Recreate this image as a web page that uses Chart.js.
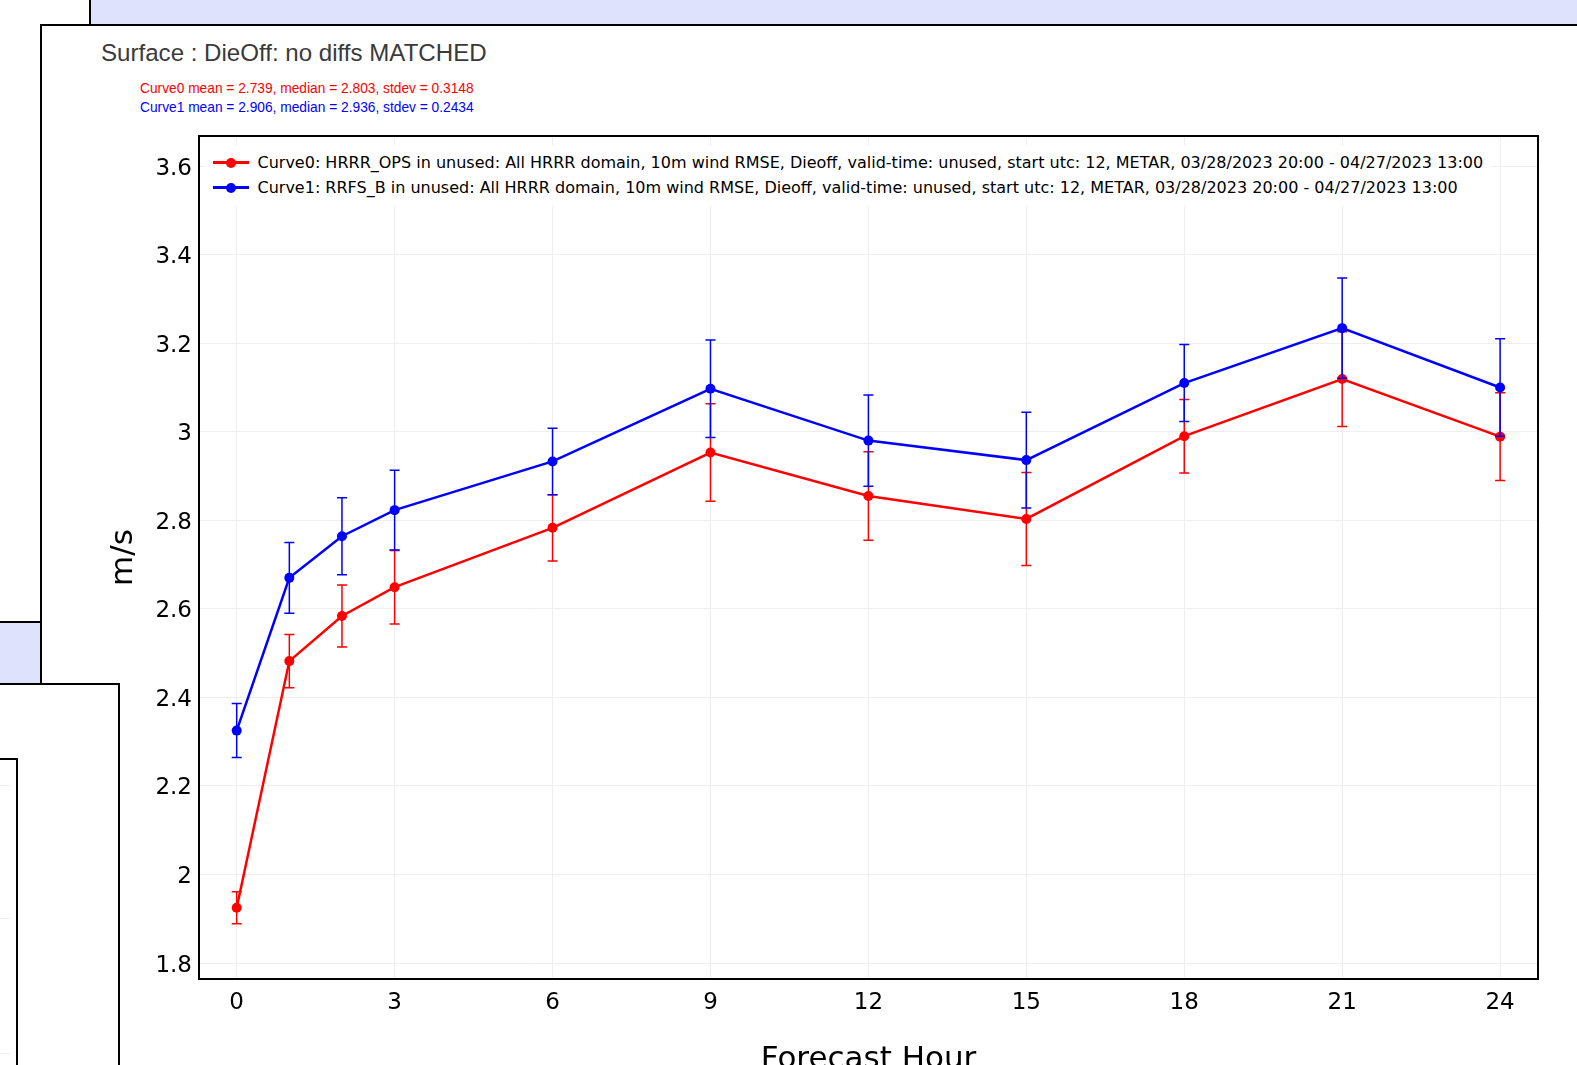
<!DOCTYPE html>
<html>
<head>
<meta charset="utf-8">
<script src="https://cdn.jsdelivr.net/npm/chart.js@4"></script>
<style>
  html, body { margin: 0; padding: 0; background: #fff; overflow: hidden; width: 1577px; height: 1065px; }
  .bg { position: absolute; box-sizing: border-box; }
  #title { position: absolute; left: 101px; top: 38px; font: 24.1px/30px "Liberation Sans", Arial, sans-serif; color: #3a3a3a; white-space: nowrap; }
  .stat { position: absolute; left: 140px; font: 13.75px/19px "Liberation Sans", Arial, sans-serif; white-space: nowrap; }
  #wrap { position: absolute; left: 0; top: 0; width: 1577px; height: 1100px; }
  #legend { position: absolute; left: 206px; top: 145px; padding: 5px 8px 6px 7px; background: #fff; font: 16px "DejaVu Sans", Verdana, sans-serif; color: #000; }
  .row { height: 25px; line-height: 25px; white-space: nowrap; display: flex; align-items: center; }
  .mk { position: relative; width: 36px; height: 25px; margin-right: 8.5px; flex: none; }
  .mk i { position: absolute; left: 0; right: 0; top: 11px; height: 3px; }
  .mk b { position: absolute; left: 13px; top: 7.5px; width: 10px; height: 10px; border-radius: 50%; }
</style>
</head>
<body>
<!-- page furniture around the plot -->
<div class="bg" style="left:89px;top:-2px;width:1600px;height:28px;background:#dde3fb;border-left:2px solid #000;border-bottom:2px solid #000;"></div>
<div class="bg" style="left:40px;top:24px;width:1600px;height:598px;background:#fff;border-left:2px solid #000;border-top:2px solid #000;"></div>
<div class="bg" style="left:-2px;top:621px;width:44px;height:63px;background:#dde3fb;border-top:2px solid #000;border-right:2px solid #000;"></div>
<div class="bg" style="left:-2px;top:683px;width:122px;height:500px;background:#fff;border-top:2px solid #000;border-right:2px solid #000;"></div>
<div class="bg" style="left:-2px;top:758px;width:20px;height:400px;background:#fff;border-top:2px solid #000;border-right:2px solid #000;"></div>
<div class="bg" style="left:0;top:785px;width:10px;height:1px;background:#eee;"></div>
<div class="bg" style="left:0;top:918px;width:10px;height:1px;background:#eee;"></div>
<div class="bg" style="left:0;top:1053px;width:10px;height:1px;background:#eee;"></div>

<div id="title">Surface : DieOff: no diffs MATCHED</div>
<div class="stat" id="stat0" style="top:79px;color:#ff0000;"></div>
<div class="stat" id="stat1" style="top:98px;color:#0000ff;"></div>

<div id="wrap"><canvas id="chart"></canvas></div>
<div id="legend"></div>

<script>
// === DATA ===
const hours = [0, 1, 2, 3, 6, 9, 12, 15, 18, 21, 24];
const xTicks = [0, 3, 6, 9, 12, 15, 18, 21, 24];
const yTicks = [1.8, 2, 2.2, 2.4, 2.6, 2.8, 3, 3.2, 3.4, 3.6];

const hrrrOps = [1.925, 2.482, 2.584, 2.649, 2.783, 2.953, 2.855, 2.803, 2.990, 3.119, 2.989];
const hrrrOpsErr = [0.036, 0.060, 0.070, 0.083, 0.075, 0.110, 0.100, 0.105, 0.083, 0.107, 0.099];
const rrfsB = [2.325, 2.670, 2.764, 2.823, 2.933, 3.097, 2.980, 2.936, 3.110, 3.234, 3.100];
const rrfsBErr = [0.061, 0.080, 0.087, 0.090, 0.075, 0.110, 0.103, 0.108, 0.087, 0.113, 0.110];

const curveLabels = [
  "Curve0: HRRR_OPS in unused: All HRRR domain, 10m wind RMSE, Dieoff, valid-time: unused, start utc: 12, METAR, 03/28/2023 20:00 - 04/27/2023 13:00",
  "Curve1: RRFS_B in unused: All HRRR domain, 10m wind RMSE, Dieoff, valid-time: unused, start utc: 12, METAR, 03/28/2023 20:00 - 04/27/2023 13:00"
];
const statLines = [
  "Curve0 mean = 2.739, median = 2.803, stdev = 0.3148",
  "Curve1 mean = 2.906, median = 2.936, stdev = 0.2434"
];
const colors = ["#ff0000", "#0000ff"];

document.getElementById("stat0").textContent = statLines[0];
document.getElementById("stat1").textContent = statLines[1];

// === LEGEND (html, sits over the plot like the original) ===
document.getElementById("legend").innerHTML = curveLabels.map((label, i) => `
  <div class="row"><span class="mk"><i style="background:${colors[i]}"></i><b style="background:${colors[i]}"></b></span>${label}</div>
`).join("");

// === PLUGINS ===
const errorBars = {
  id: "errorBars",
  beforeDatasetDraw(chart, args) {
    const ds = chart.data.datasets[args.index];
    const { x, y } = chart.scales;
    const ctx = chart.ctx;
    ctx.save();
    ctx.strokeStyle = ds.borderColor;
    ctx.lineWidth = 1.5;
    ds.data.forEach((p, i) => {
      const px = x.getPixelForValue(p.x);
      const hi = y.getPixelForValue(p.y + ds.errs[i]);
      const lo = y.getPixelForValue(p.y - ds.errs[i]);
      ctx.beginPath();
      ctx.moveTo(px, hi); ctx.lineTo(px, lo);
      ctx.moveTo(px - 5, hi); ctx.lineTo(px + 5, hi);
      ctx.moveTo(px - 5, lo); ctx.lineTo(px + 5, lo);
      ctx.stroke();
    });
    ctx.restore();
  }
};

const frame = {
  id: "frame",
  afterDraw(chart) {
    const { left, top, width, height } = chart.chartArea;
    const ctx = chart.ctx;
    ctx.save();
    ctx.strokeStyle = "#000";
    ctx.lineWidth = 2;
    ctx.strokeRect(left, top, width, height);
    ctx.restore();
  }
};

// === CHART ===
new Chart(document.getElementById("chart"), {
  type: "line",
  data: {
    datasets: [
      {
        label: curveLabels[0],
        data: hours.map((h, i) => ({ x: h, y: hrrrOps[i] })),
        errs: hrrrOpsErr,
        borderColor: colors[0],
        backgroundColor: colors[0],
        order: 1
      },
      {
        label: curveLabels[1],
        data: hours.map((h, i) => ({ x: h, y: rrfsB[i] })),
        errs: rrfsBErr,
        borderColor: colors[1],
        backgroundColor: colors[1],
        order: 0
      }
    ]
  },
  options: {
    responsive: true,
    maintainAspectRatio: false,
    animation: false,
    devicePixelRatio: 1,
    layout: { padding: { left: 105, top: 136, right: 39, bottom: 0 } },
    elements: {
      line: { borderWidth: 2.5, tension: 0 },
      point: { radius: 5, borderWidth: 0, hoverRadius: 5 }
    },
    plugins: { legend: { display: false }, tooltip: { enabled: false } },
    scales: {
      x: {
        type: "linear",
        min: -0.716,
        max: 24.72,
        afterBuildTicks: s => { s.ticks = xTicks.map(v => ({ value: v })); },
        afterFit: s => { s.height = 121; },
        grid: { color: "#eeeeee", drawTicks: false },
        border: { display: false },
        ticks: { color: "#000", padding: 10, font: { family: "DejaVu Sans", size: 23 } },
        title: {
          display: true, text: "Forecast Hour", color: "#000",
          font: { family: "DejaVu Sans", size: 31 }, padding: { top: 0, bottom: 21 }
        }
      },
      y: {
        min: 1.764,
        max: 3.668,
        afterBuildTicks: s => { s.ticks = yTicks.map(v => ({ value: v })); },
        afterFit: s => { s.width = 94; },
        grid: { color: "#eeeeee", drawTicks: false },
        border: { display: false },
        ticks: {
          color: "#000", padding: 7, labelOffset: 2.5, font: { family: "DejaVu Sans", size: 23 },
          callback: v => String(Number(v.toFixed(1)))
        },
        title: {
          display: true, text: "m/s", color: "#000",
          font: { family: "DejaVu Sans", size: 31 }, padding: { top: 0, bottom: 0 }
        }
      }
    }
  },
  plugins: [errorBars, frame]
});
</script>
</body>
</html>
